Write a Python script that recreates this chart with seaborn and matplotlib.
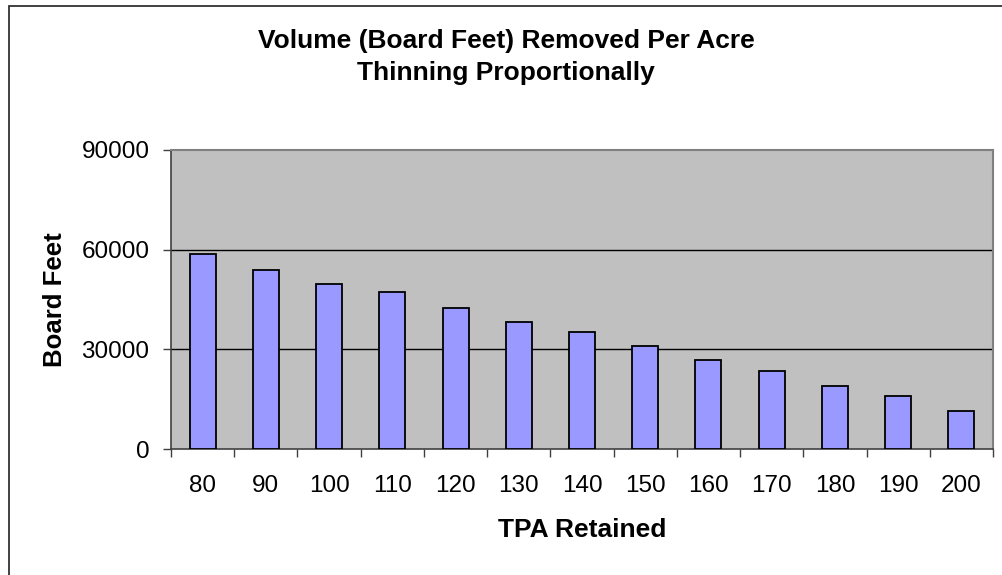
import numpy as np
import pandas as pd
import seaborn as sns
import matplotlib.pyplot as plt
from matplotlib.patches import Rectangle

# data
tpa_retained = ['80', '90', '100', '110', '120', '130', '140',
                '150', '160', '170', '180', '190', '200']
board_feet = [58600, 54000, 49700, 47300, 42500, 38300, 35300,
              31100, 26900, 23400, 19100, 16100, 11300]
y_ticks = [0, 30000, 60000, 90000]

df = pd.DataFrame({'TPA': tpa_retained, 'BoardFeet': board_feet})

sns.set_style('white')
plt.rcParams['font.family'] = ['Liberation Sans', 'DejaVu Sans']
plt.rcParams['text.color'] = 'black'
plt.rcParams['axes.labelcolor'] = 'black'
plt.rcParams['xtick.color'] = 'black'
plt.rcParams['ytick.color'] = 'black'

fig = plt.figure(figsize=(10.02, 5.75), dpi=100)
ax = fig.add_axes([171 / 1002, 1 - 449 / 575, 822 / 1002, 299 / 575])
ax.set_facecolor('#C0C0C0')

sns.barplot(data=df, x='TPA', y='BoardFeet', order=tpa_retained,
            color='#9999FF', saturation=1, width=0.41,
            edgecolor='black', linewidth=1.3, ax=ax, zorder=3)

# axes range / grid
ax.set_xlim(-0.5, len(tpa_retained) - 0.5)
ax.set_ylim(0, 90000)
ax.set_yticks(y_ticks)
ax.set_yticklabels([str(v) for v in y_ticks], fontsize=17.5)
for v in y_ticks[1:-1]:
    ax.axhline(v, color='black', lw=1.0, zorder=1)

# x ticks: labels at centres, tick marks at category boundaries
ax.set_xticks(range(len(tpa_retained)))
ax.set_xticklabels(tpa_retained, fontsize=17.5)
ax.set_xticks(np.arange(-0.5, len(tpa_retained), 1.0), minor=True)
ax.tick_params(axis='x', which='major', length=0, pad=19)
ax.tick_params(axis='x', which='minor', length=5.5, width=1, color='#404040',
               direction='out', bottom=True)
ax.tick_params(axis='y', length=5.5, width=1, color='#404040',
               direction='out', left=True, pad=10)

for side in ['left', 'bottom']:
    ax.spines[side].set_color('#404040')
    ax.spines[side].set_linewidth(1.2)
for side in ['top', 'right']:
    ax.spines[side].set_visible(True)
    ax.spines[side].set_color('#808080')
    ax.spines[side].set_linewidth(1.5)

ax.set_xlabel('TPA Retained', fontsize=19, fontweight='bold')
ax.set_ylabel('Board Feet', fontsize=18.5, fontweight='bold')
ax.xaxis.set_label_coords(0.5, -0.232)
ax.yaxis.set_label_coords(-0.126, 0.5)

fig.text(0.505, 1 - 57 / 575,
         'Volume (Board Feet) Removed Per Acre\nThinning Proportionally',
         ha='center', va='center', fontsize=19, fontweight='bold',
         linespacing=1.42)

# chart-area frame (clipped on the right and bottom in the reference)
fig.patches.append(Rectangle((8.5 / 1002, -0.05), 1.2, 1 - 5.5 / 575 + 0.05,
                             transform=fig.transFigure, fill=False,
                             edgecolor='#333333', linewidth=1.3))

fig.savefig('out.png', dpi=100)
